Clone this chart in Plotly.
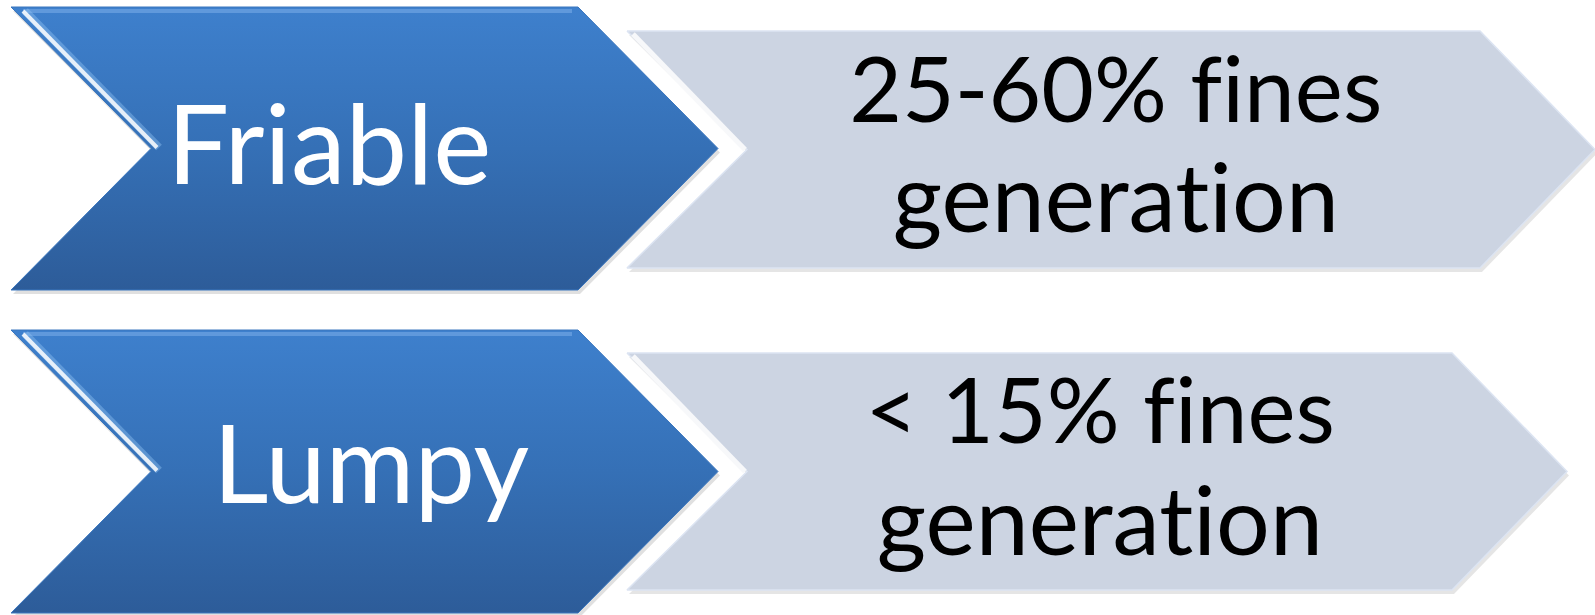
import plotly.graph_objects as go

W, H = 1595, 615

# Diagram content
left_labels = ["Friable", "Lumpy"]
right_line1 = ["25-60% fines", "< 15% fines"]
right_line2 = ["generation", "generation"]

# Layout geometry (pixel space, y measured from top)
blue_rows = [(7, 290), (330, 613)]
gray_rows = [(31, 268), (353, 590)]
blue_x0, blue_x1, blue_depth = 11, 578, 140
gray_x0, gray_x1s, gray_notch, gray_tip = 627, [1480, 1452], 120, 115

BLUE_TOP, BLUE_BOT = "#3E80CD", "#2D5C99"
GRAY = "#CCD4E2"


def Y(y):
    return H - y


def chevron(x0, x1, notch, tip, yt, yb):
    ym = (yt + yb) / 2
    xs = [x0, x1, x1 + tip, x1, x0, x0 + notch, x0]
    ys = [yt, yt, ym, yb, yb, ym, yt]
    return xs, [Y(v) for v in ys]


fig = go.Figure()

for i in range(2):
    yt, yb = blue_rows[i]
    # shadow
    xs, ys = chevron(blue_x0 + 2, blue_x1 + 2, blue_depth, blue_depth, yt + 4, yb + 4)
    fig.add_trace(go.Scatter(x=xs, y=ys, fill="toself", mode="lines",
                             line=dict(width=0), fillcolor="rgba(0,0,0,0.12)",
                             hoverinfo="skip", showlegend=False))
    xs, ys = chevron(blue_x0, blue_x1, blue_depth, blue_depth, yt, yb)
    fig.add_trace(go.Scatter(
        x=xs, y=ys, fill="toself", mode="lines",
        line=dict(width=1, color="#3A76BE"),
        fillgradient=dict(type="vertical", start=Y(yb), stop=Y(yt),
                          colorscale=[[0, BLUE_BOT], [0.5, "#3570B6"], [1, BLUE_TOP]]),
        hoverinfo="skip", showlegend=False))
    # top bevel highlight
    fig.add_trace(go.Scatter(x=[blue_x0 + 12, blue_x1 - 6], y=[Y(yt + 4), Y(yt + 4)],
                             mode="lines", line=dict(width=4, color="rgba(120,170,230,0.6)"),
                             hoverinfo="skip", showlegend=False))
    # upper-left edge white highlight (soft)
    ym = (yt + yb) / 2
    fig.add_trace(go.Scatter(x=[blue_x0 + 14, blue_x0 + blue_depth + 8],
                             y=[Y(yt + 4), Y(ym - 1)],
                             mode="lines", line=dict(width=8, color="rgba(140,190,240,0.45)"),
                             hoverinfo="skip", showlegend=False))
    fig.add_trace(go.Scatter(x=[blue_x0 + 12, blue_x0 + blue_depth + 6],
                             y=[Y(yt + 4), Y(ym - 1)],
                             mode="lines", line=dict(width=4, color="rgba(255,255,255,0.85)"),
                             hoverinfo="skip", showlegend=False))

    # gray chevron
    gt, gb = gray_rows[i]
    gx1 = gray_x1s[i]
    xs, ys = chevron(gray_x0 + 2, gx1 + 2, gray_notch, gray_tip, gt + 4, gb + 4)
    fig.add_trace(go.Scatter(x=xs, y=ys, fill="toself", mode="lines",
                             line=dict(width=0), fillcolor="rgba(0,0,0,0.10)",
                             hoverinfo="skip", showlegend=False))
    xs, ys = chevron(gray_x0, gx1, gray_notch, gray_tip, gt, gb)
    fig.add_trace(go.Scatter(x=xs, y=ys, fill="toself", mode="lines",
                             line=dict(width=1.5, color="#DCE4F2"), fillcolor=GRAY,
                             hoverinfo="skip", showlegend=False))
    gm = (gt + gb) / 2
    fig.add_trace(go.Scatter(x=[gray_x0 + 6, gray_x0 + gray_notch - 2],
                             y=[Y(gt + 3), Y(gm)],
                             mode="lines", line=dict(width=5, color="rgba(247,248,250,1)"),
                             hoverinfo="skip", showlegend=False))

    # texts
    fig.add_annotation(x=[329, 371][i], y=Y([183, 503][i] - 42), text=left_labels[i],
                       showarrow=False, xanchor="center", yanchor="middle",
                       font=dict(family="Lato", size=[110, 108][i], color="white"))
    gxc = [1116, 1100][i]
    fig.add_annotation(x=gxc, y=Y([122, 443][i] - 36), text=right_line1[i],
                       showarrow=False, xanchor="center", yanchor="middle",
                       font=dict(family="Lato", size=91, color="black"))
    fig.add_annotation(x=gxc, y=Y([232, 555][i] - 37), text=right_line2[i],
                       showarrow=False, xanchor="center", yanchor="middle",
                       font=dict(family="Lato", size=95, color="black"))

fig.update_layout(
    width=W, height=H, margin=dict(l=0, r=0, t=0, b=0),
    paper_bgcolor="white", plot_bgcolor="white",
    xaxis=dict(range=[0, W], visible=False, fixedrange=True),
    yaxis=dict(range=[0, H], visible=False, fixedrange=True),
    showlegend=False,
)

post = """
document.body.style.margin = '0';
document.body.style.overflow = 'hidden';
document.querySelectorAll('text').forEach(function(t){
  t.style.fontVariantLigatures = 'none';
  t.style.fontFeatureSettings = '"liga" 0, "clig" 0';
});
"""

fig.write_html("out.html", post_script=post, config={"displayModeBar": False})
